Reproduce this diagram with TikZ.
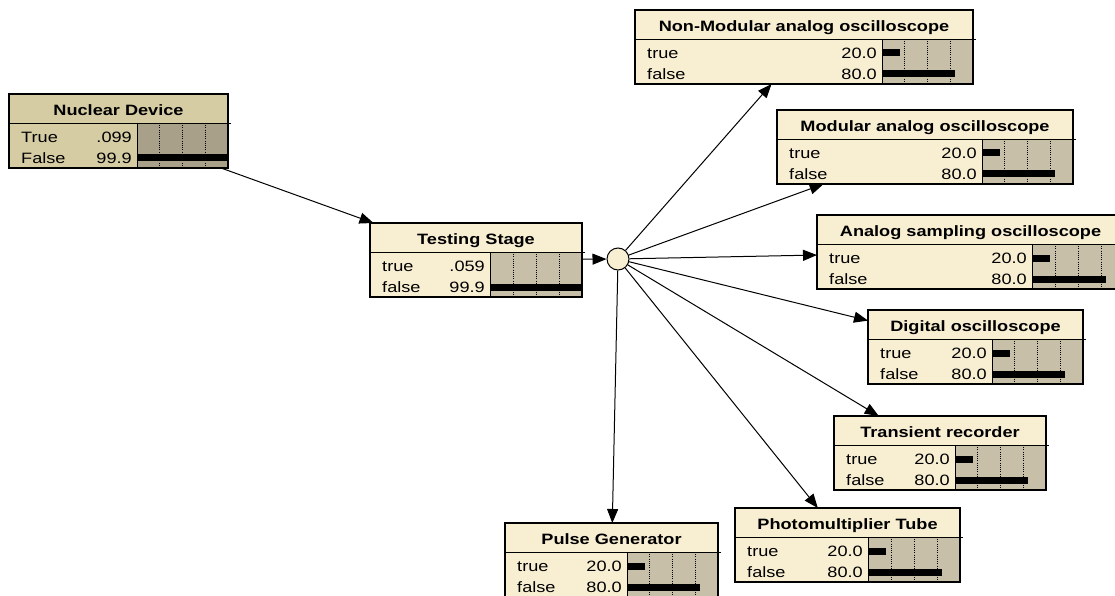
\documentclass[tikz,border=0pt]{standalone}
\usepackage{fontspec}
\setmainfont[FakeStretch=1.21]{Liberation Sans}
\usetikzlibrary{arrows.meta}

\definecolor{plaincream}{RGB}{248,238,210}
\definecolor{plainbar}{RGB}{200,191,168}
\definecolor{selcream}{RGB}{214,204,163}
\definecolor{selbar}{RGB}{168,160,136}

\tikzset{
  netbox/.style={rectangle, draw=none, inner sep=0pt, outer sep=0pt,
    anchor=north west, minimum height=74pt},
  titletext/.style={inner sep=0pt, font=\bfseries\fontsize{15}{17}\selectfont},
  rowtext/.style={inner sep=0pt, font=\fontsize{15}{17}\selectfont},
  hubnode/.style={circle, draw=black, line width=1pt, fill=plaincream,
    minimum size=22pt, inner sep=0pt},
  link/.style={line width=1pt, -{Triangle[length=14pt,width=11pt]}},
  gridline/.style={line width=0.7pt, dash pattern=on 1pt off 1.2pt},
}

% Belief box: #1 name, #2 x, #3 y, #4 width, #5 width of the label part,
% #6 title, #7 colour set (plain / sel)
\newcommand\netbox[7]{%
  \node[netbox, minimum width=#4pt, fill=#7cream] (#1) at (#2,#3) {};
  \begin{scope}[shift={(#1.north west)}]
    \fill[#7bar] (#5,29) rectangle (#4,74);
    \foreach \q in {0.25,0.5,0.75}
      \draw[gridline] ({#5+\q*(#4-#5)},29) -- ({#5+\q*(#4-#5)},74);
    \draw[line width=0.8pt] (0,29) -- ({#4+2.5},29);
    \draw[line width=0.8pt] (#5,29) -- (#5,74);
    \node[titletext, anchor=base] at ({#4/2},21.5) {#6};
  \end{scope}
  \draw[line width=1.5pt] (#1.north west) rectangle (#1.south east);
}

% One state row: #1 box name, #2 box width, #3 label width, #4 row index,
% #5 state, #6 percentage text, #7 fraction of the bar
\newcommand\netrow[7]{%
  \begin{scope}[shift={(#1.north west)}]
    \node[rowtext, anchor=base west] at (12,{48.5+21*#4}) {#5};
    \node[rowtext, anchor=base east] at ({#3-5},{48.5+21*#4}) {#6};
    \fill[black] (#3,{39.5+21*#4}) rectangle ({#3+#7*(#2-#3)},{46.5+21*#4});
  \end{scope}
}

\begin{document}
\begin{tikzpicture}[x=1pt,y=-1pt]
\fill[white] (0,0) rectangle (1115,596);
\useasboundingbox (0,0) rectangle (1115,596);
\clip (0,0) rectangle (1115,596);

% nodes of the network
\netbox{nd}{9}{94}{219}{128}{Nuclear Device}{sel}
\netrow{nd}{219}{128}{0}{True}{.099}{0.001}
\netrow{nd}{219}{128}{1}{False}{99.9}{0.999}

\netbox{ts}{370}{223}{212}{120}{Testing Stage}{plain}
\netrow{ts}{212}{120}{0}{true}{.059}{0.0006}
\netrow{ts}{212}{120}{1}{false}{99.9}{0.999}

\netbox{nm}{635}{10}{338}{247}{Non-Modular analog oscilloscope}{plain}
\netrow{nm}{338}{247}{0}{true}{20.0}{0.2}
\netrow{nm}{338}{247}{1}{false}{80.0}{0.8}

\netbox{ma}{777}{110}{296}{205}{Modular analog oscilloscope}{plain}
\netrow{ma}{296}{205}{0}{true}{20.0}{0.2}
\netrow{ma}{296}{205}{1}{false}{80.0}{0.8}

\netbox{as}{817}{215}{307}{215}{Analog sampling oscilloscope}{plain}
\netrow{as}{307}{215}{0}{true}{20.0}{0.2}
\netrow{as}{307}{215}{1}{false}{80.0}{0.8}

\netbox{do}{868}{310}{215}{124}{Digital oscilloscope}{plain}
\netrow{do}{215}{124}{0}{true}{20.0}{0.2}
\netrow{do}{215}{124}{1}{false}{80.0}{0.8}

\netbox{tr}{834}{416}{212}{121}{Transient recorder}{plain}
\netrow{tr}{212}{121}{0}{true}{20.0}{0.2}
\netrow{tr}{212}{121}{1}{false}{80.0}{0.8}

\netbox{pt}{735}{508}{225}{133}{Photomultiplier Tube}{plain}
\netrow{pt}{225}{133}{0}{true}{20.0}{0.2}
\netrow{pt}{225}{133}{1}{false}{80.0}{0.8}

\netbox{pg}{505}{523}{213}{122}{Pulse Generator}{plain}
\netrow{pg}{213}{122}{0}{true}{20.0}{0.2}
\netrow{pg}{213}{122}{1}{false}{80.0}{0.8}

% branching point
\node[hubnode] (hub) at (618,259) {};

% links
\draw[link] (nd) -- (ts);
\draw[link] (ts) -- (hub);
\foreach \t in {nm,ma,as,do,tr,pt,pg}
  \draw[link] (hub) -- (\t);
\end{tikzpicture}
\end{document}
